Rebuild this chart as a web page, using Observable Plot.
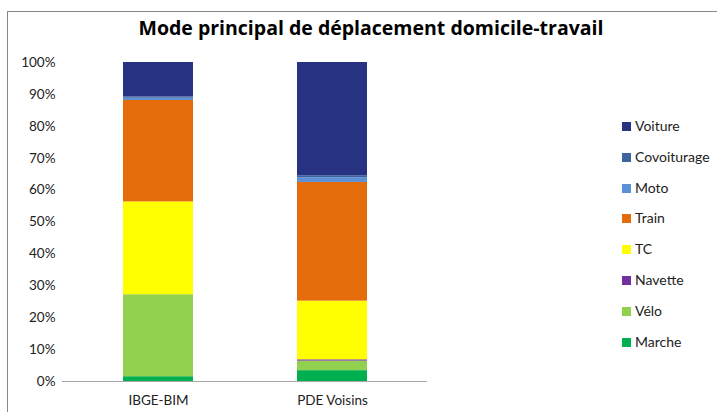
<!DOCTYPE html>
<html>
<head>
<meta charset="utf-8">
<script src="https://cdn.jsdelivr.net/npm/d3@7"></script>
<script src="https://cdn.jsdelivr.net/npm/@observablehq/plot@0.6"></script>
<style>
  body { margin: 0; background: #fff; font-family: Lato, "Open Sans", sans-serif; }
  #wrap { position: relative; width: 717px; height: 412px; overflow: hidden; }
  #frame { position: absolute; left: 7px; top: 11px; width: 800px; height: 500px; border: 1px solid #888; box-sizing: border-box; }
  #title { position: absolute; top: 14px; left: 0; width: 742px; text-align: center; font-weight: bold; font-size: 19.5px; color: #000; font-family: "Open Sans", Lato, sans-serif; }
  #chart { position: absolute; left: 0; top: 0; }
  #legend { position: absolute; left: 622px; top: 117px; font-size: 14px; color: #222; }
  .item { height: 30.8px; display: flex; align-items: flex-start; }
  .sw { width: 9px; height: 9px; margin-right: 4px; margin-top: 5px; }
</style>
</head>
<body>
<div id="wrap">
  <div id="frame"></div>
  <div id="title">Mode principal de déplacement domicile-travail</div>
  <div id="chart"></div>
  <div id="legend"></div>
</div>
<script>
const categories = ["IBGE-BIM", "PDE Voisins"];
const modes = ["Marche", "Vélo", "Navette", "TC", "Train", "Moto", "Covoiturage", "Voiture"];
const colors = ["#00B050", "#92D050", "#7030A0", "#FFFF00", "#E46C0A", "#5B8FD6", "#3B64A0", "#283282"];
const ibgeValues = [1.5, 25.7, 0, 29.1, 31.8, 0.7, 0.4, 10.8];
const pdeValues = [3.4, 3.0, 0.4, 18.4, 37.2, 1.4, 0.7, 35.5];
const yTicks = [0, 10, 20, 30, 40, 50, 60, 70, 80, 90, 100];

const data = [];
modes.forEach((m, i) => {
  data.push({cat: categories[0], mode: m, value: ibgeValues[i]});
  data.push({cat: categories[1], mode: m, value: pdeValues[i]});
});

const chart = Plot.plot({
  width: 440,
  height: 412,
  marginTop: 62,
  marginBottom: 31,
  marginLeft: 62,
  marginRight: 13,
  style: {fontFamily: "Lato, 'Open Sans', sans-serif", fontSize: "13.5px", color: "#222", background: "transparent"},
  x: {domain: categories, paddingInner: 0.6, paddingOuter: 0.343, label: null, tickSize: 0, tickPadding: 14},
  y: {domain: [0, 100], ticks: yTicks, label: null, tickFormat: d => d + "%", tickSize: 0, tickPadding: 7},
  color: {domain: modes, range: colors},
  marks: [
    Plot.gridY(yTicks, {stroke: "#a6a6a6", strokeOpacity: 1, x1: 0, x2: 0}),
    Plot.barY(data, {x: "cat", y: "value", fill: "mode", order: modes}),
    Plot.ruleY([0], {stroke: "#a6a6a6"})
  ]
});
document.getElementById("chart").appendChild(chart);

const legend = document.getElementById("legend");
for (let i = modes.length - 1; i >= 0; i--) {
  const row = document.createElement("div");
  row.className = "item";
  const sw = document.createElement("span");
  sw.className = "sw";
  sw.style.background = colors[i];
  const t = document.createElement("span");
  t.textContent = modes[i];
  row.appendChild(sw);
  row.appendChild(t);
  legend.appendChild(row);
}
</script>
</body>
</html>
